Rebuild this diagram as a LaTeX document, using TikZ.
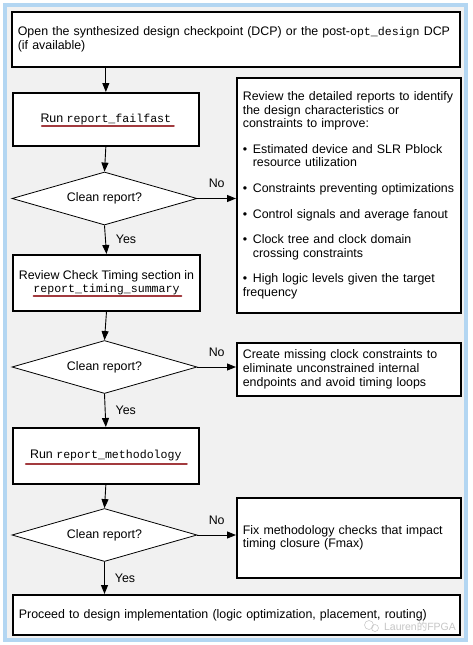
\documentclass[tikz,border=0pt]{standalone}
\usepackage{fontspec}
\setmainfont{Liberation Sans}
\setmonofont{Liberation Mono}
\newfontfamily\cjkfont{Noto Sans CJK SC}
\usetikzlibrary{arrows.meta,shapes.geometric,calc,positioning}

\definecolor{markred}{HTML}{A23A3E}
\definecolor{frameblue}{HTML}{B3D6F2}
\definecolor{framegray}{HTML}{F1F1F1}

\newcommand{\code}[1]{{\ttfamily\fontsize{11.6pt}{13.6pt}\selectfont #1}}
\newcommand{\bitem}[1]{\par\vspace{12pt}\noindent\hangindent=10pt\hangafter=1\makebox[10pt][l]{\textbullet}#1}

\tikzset{
	flowbox/.style={draw, line width=1.7pt, fill=white, inner xsep=6pt, anchor=north west},
	decision/.style={draw, diamond, aspect=3.5, line width=0.8pt, fill=white, inner sep=0pt, minimum width=185pt, minimum height=53pt},
	flow/.style={-{Triangle[length=9pt,width=7pt]}, line width=0.9pt},
	redline/.style={draw=markred, line width=1.8pt, line cap=round},
	lbl/.style={inner sep=1pt}
}

\begin{document}
\begin{tikzpicture}[x=1pt, y=-1pt, font=\fontsize{12.4pt}{13.6pt}\selectfont]
	\useasboundingbox (0,0) rectangle (472,645);
	\draw[draw=frameblue, line width=4.5pt, fill=framegray] (5,5) rectangle (466,640);

	% Main flow on the left
	\node [flowbox, minimum width=448pt, minimum height=55pt, text width=436pt, align=left, font=\fontsize{12.4pt}{14pt}\selectfont] (open) at (11,11) {\mbox{Open the synthesized design checkpoint (DCP) or the post-\code{opt\_design} DCP}\\(if available)};
	\node [flowbox, minimum width=186pt, minimum height=53pt] (failfast) at (12,92) {Run \code{report\_failfast}};
	\node [decision] (check1) at (104.5,198.5) {Clean report?};
	\node [flowbox, minimum width=186pt, minimum height=56pt, align=center] (timing) at (12,254) {Review Check Timing section in\\\code{report\_timing\_summary}};
	\node [decision] (check2) at (104.5,367) {Clean report?};
	\node [flowbox, minimum width=186pt, minimum height=56pt] (method) at (12,427) {Run \code{report\_methodology}};
	\node [decision] (check3) at (104.5,535) {Clean report?};
	\node [flowbox, minimum width=447pt, minimum height=40pt, text width=435pt, align=left] (impl) at (12,594) {Proceed to design implementation (logic optimization, placement, routing)};

	% Boxes on the right for the No branches
	\node [flowbox, minimum width=223pt, minimum height=235pt, text width=212pt, align=left] (reports) at (236,77) {%
		\noindent Review the detailed reports to identify\newline the design characteristics or\newline constraints to improve:
		\bitem{Estimated device and SLR Pblock\newline resource utilization}
		\bitem{Constraints preventing optimizations}
		\bitem{Control signals and average fanout}
		\bitem{Clock tree and clock domain\newline crossing constraints}
		\bitem{High logic levels given the target\newline frequency}};
	\node [flowbox, minimum width=223pt, minimum height=53pt, text width=212pt, align=left] (clocks) at (236,342) {Create missing clock constraints to\\eliminate unconstrained internal\\endpoints and avoid timing loops};
	\node [flowbox, minimum width=223pt, minimum height=80pt, text width=212pt, align=left] (fix) at (236,497) {Fix methodology checks that impact\\timing closure (Fmax)};

	% Red marks under the commands
	\draw [redline] ([xshift=-64pt, yshift=-7pt]failfast.center) -- ([xshift=68pt, yshift=-7pt]failfast.center);
	\draw [redline] ([xshift=-73pt, yshift=-13pt]timing.center) -- ([xshift=75pt, yshift=-13pt]timing.center);
	\draw [redline] ([xshift=-80pt, yshift=-8pt]method.center) -- ([xshift=81pt, yshift=-8pt]method.center);

	% Connectors
	\draw [flow] (open.south -| failfast.north) -- (failfast.north);
	\draw [flow] (failfast.south) -- (check1.north);
	\draw [flow] (check1.east) -- (check1.east -| reports.west) node [lbl, midway, above=9pt] {No};
	\draw [flow] (check1.south) -- (timing.north) node [lbl, midway, right=9pt] {Yes};
	\draw [flow] (timing.south) -- (check2.north);
	\draw [flow] (check2.east) -- (check2.east -| clocks.west) node [lbl, midway, above=9pt] {No};
	\draw [flow] (check2.south) -- (method.north) node [lbl, midway, right=9pt] {Yes};
	\draw [flow] (method.south) -- (check3.north);
	\draw [flow] (check3.east) -- (check3.east -| fix.west) node [lbl, midway, above=9pt] {No};
	\draw [flow] (check3.south) -- (impl.north -| check3.south) node [lbl, midway, right=9pt] {Yes};

	% Watermark
	\node [text=gray!45, font=\fontsize{10.5pt}{12pt}\selectfont] (mark) at (420,626) {Lauren{\cjkfont 的}FPGA};
	\draw [gray!40, line width=0.6pt] (369,625) circle (4.5pt) (375,628) circle (3.5pt);
\end{tikzpicture}
\end{document}
